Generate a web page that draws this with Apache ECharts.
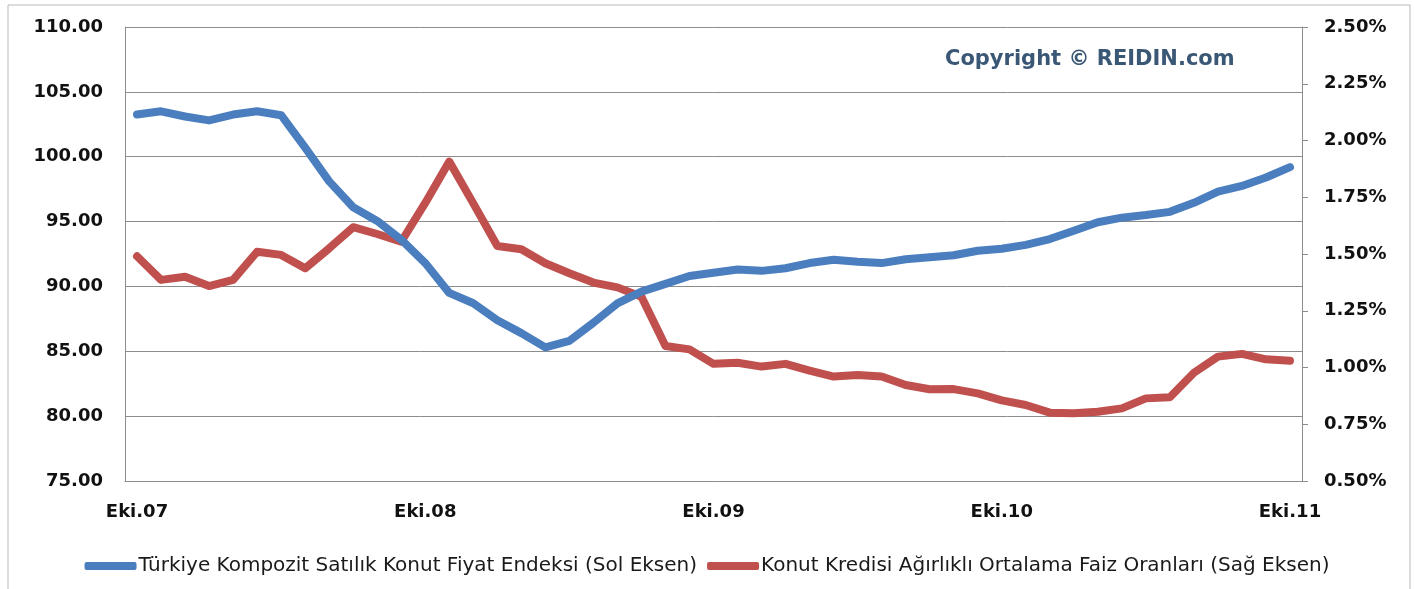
<!DOCTYPE html>
<html>
<head>
<meta charset="utf-8">
<script src="https://cdn.jsdelivr.net/npm/echarts@6/dist/echarts.min.js"></script>
<style>
html,body{margin:0;padding:0;background:#fff;}
#chart{width:1414px;height:589px;}
</style>
</head>
<body>
<div id="chart"></div>
<script>
const monthNames = ['Oca','Şub','Mar','Nis','May','Haz','Tem','Ağu','Eyl','Eki','Kas','Ara'];
const startYear = 2007, startMonth = 9, monthCount = 49;
const categories = [];
for (let i = 0; i < monthCount; i++) {
  const m = (startMonth + i) % 12;
  const y = startYear + Math.floor((startMonth + i) / 12);
  categories.push(monthNames[m] + '.' + String(y).slice(2));
}

const priceIndex = [103.25, 103.5, 103.1, 102.8, 103.25, 103.5, 103.2, 100.7, 98.1, 96.1,
  95.05, 93.6, 91.8, 89.5, 88.7, 87.4, 86.4, 85.3, 85.8, 87.2,
  88.7, 89.6, 90.2, 90.8, 91.05, 91.3, 91.2, 91.4, 91.8, 92.05,
  91.9, 91.8, 92.1, 92.25, 92.4, 92.75, 92.9, 93.2, 93.65, 94.3,
  94.95, 95.3, 95.5, 95.75, 96.45, 97.3, 97.75, 98.4, 99.2];

const interestRate = [1.49, 1.386, 1.40, 1.359, 1.386, 1.51, 1.496, 1.437, 1.525, 1.618,
  1.588, 1.554, 1.725, 1.907, 1.723, 1.535, 1.521, 1.459, 1.415, 1.374,
  1.353, 1.312, 1.095, 1.08, 1.016, 1.021, 1.004, 1.016, 0.986, 0.96,
  0.967, 0.96, 0.923, 0.904, 0.905, 0.886, 0.855, 0.835, 0.801, 0.798,
  0.805, 0.82, 0.864, 0.869, 0.977, 1.048, 1.06, 1.036, 1.03];

const seriesNames = ['Türkiye Kompozit Satılık Konut Fiyat Endeksi (Sol Eksen)',
  'Konut Kredisi Ağırlıklı Ortalama Faiz Oranları (Sağ Eksen)'];

const chart = echarts.init(document.getElementById('chart'), null, {renderer: 'canvas'});
const axisFont = {fontFamily: 'DejaVu Sans', fontWeight: 'bold', fontSize: 18, color: '#111'};

chart.setOption({
  animation: false,
  backgroundColor: '#fff',
  grid: {left: 125, right: 112, top: 27, bottom: 108, containLabel: false},
  graphic: [
    {type: 'rect', shape: {x: 8, y: 5, width: 1402, height: 620},
     style: {fill: 'none', stroke: '#b8b8b8', lineWidth: 1}, silent: true, z: -1},
    {type: 'text', left: 945, top: 49,
     style: {text: 'Copyright © REIDIN.com', fill: '#3a5775',
       font: 'bold 21px "DejaVu Sans"'}}
  ],
  legend: {
    top: 551, left: 'center',
    itemWidth: 52, itemHeight: 8, itemGap: 10,
    icon: 'roundRect',
    textStyle: {fontFamily: 'DejaVu Sans', fontWeight: 'normal', fontSize: 20, color: '#1a1a1a', padding: [0,0,0,-3]},
    data: seriesNames
  },
  xAxis: {
    type: 'category',
    data: categories,
    boundaryGap: true,
    axisLine: {show: true, lineStyle: {color: '#8c8c8c', width: 1}},
    axisTick: {show: false},
    axisLabel: Object.assign({interval: 11, margin: 22}, axisFont),
    splitLine: {show: false}
  },
  yAxis: [
    {
      type: 'value', min: 75, max: 110, interval: 5, position: 'left',
      axisLine: {show: true, lineStyle: {color: '#8c8c8c', width: 1}},
      axisTick: {show: false},
      axisLabel: Object.assign({margin: 22, formatter: v => v.toFixed(2)}, axisFont),
      splitLine: {show: true, lineStyle: {color: '#8c8c8c', width: 1}}
    },
    {
      type: 'value', min: 0.5, max: 2.5, interval: 0.25, position: 'right',
      axisLine: {show: true, lineStyle: {color: '#8c8c8c', width: 1}},
      axisTick: {show: true, inside: false, length: 6, lineStyle: {color: '#8c8c8c'}},
      axisLabel: Object.assign({margin: 22, formatter: v => v.toFixed(2) + '%'}, axisFont),
      splitLine: {show: false}
    }
  ],
  series: [
    {
      name: seriesNames[0], type: 'line', yAxisIndex: 0, data: priceIndex,
      symbol: 'none', smooth: false,
      itemStyle: {color: '#4a7ebf'},
      lineStyle: {color: '#4a7ebf', width: 8, cap: 'round', join: 'round'},
      z: 3
    },
    {
      name: seriesNames[1], type: 'line', yAxisIndex: 1, data: interestRate,
      symbol: 'none', smooth: false,
      itemStyle: {color: '#c0504d'},
      lineStyle: {color: '#c0504d', width: 8, cap: 'round', join: 'round'},
      z: 2
    }
  ]
});
</script>
</body>
</html>
